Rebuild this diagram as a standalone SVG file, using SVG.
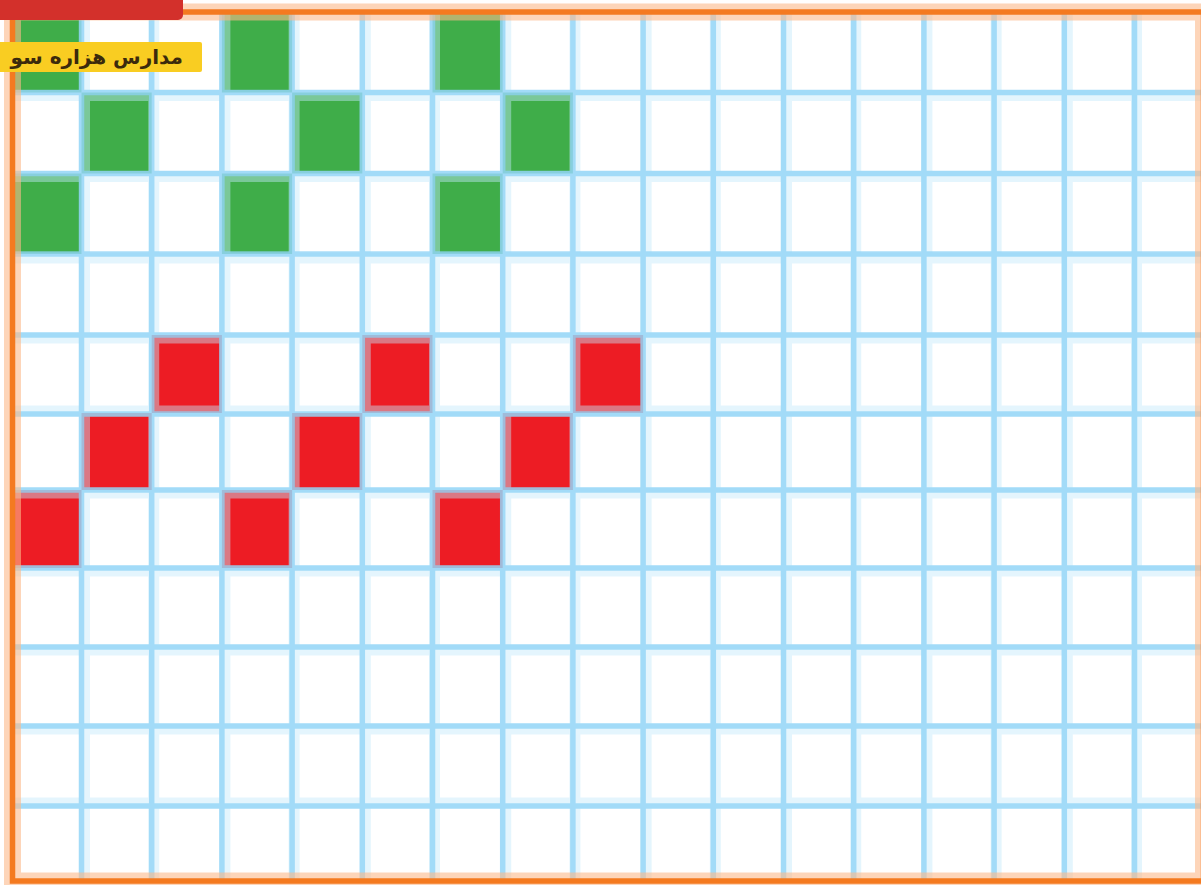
<svg xmlns="http://www.w3.org/2000/svg" width="1201" height="885" viewBox="0 0 1201 885">
<style>
.g{fill:#3fad49}
.r{fill:#ed1c24}
.band{stroke:#c4e9fa;stroke-width:11;opacity:0.45;fill:none}
.core{stroke:#8cd2f5;stroke-width:5.5;opacity:0.75;fill:none}
.obd{fill:none;stroke:#fbb98a;stroke-width:17;opacity:0.6}
.ocore{fill:none;stroke:#f47a20;stroke-width:5.5}
.lbl{font-family:"DejaVu Sans","Noto Sans",sans-serif;font-size:20px;font-weight:bold;fill:#3b2a0c}
</style>
<rect width="1201" height="885" fill="#ffffff"/>
<g id="squares-green">
<rect class="g" x="12.5" y="12" width="69" height="80.5"/>
<rect class="g" x="221.9" y="12" width="70.2" height="80.5"/>
<rect class="g" x="432.5" y="12" width="70.2" height="80.5"/>
<rect class="g" x="81.5" y="92.5" width="70.2" height="81"/>
<rect class="g" x="292.1" y="92.5" width="70.2" height="81"/>
<rect class="g" x="502.7" y="92.5" width="70.2" height="81"/>
<rect class="g" x="12.5" y="173.5" width="69" height="80.5"/>
<rect class="g" x="221.9" y="173.5" width="70.2" height="80.5"/>
<rect class="g" x="432.5" y="173.5" width="70.2" height="80.5"/>
</g>
<g id="squares-red">
<rect class="r" x="151.7" y="335" width="70.2" height="78"/>
<rect class="r" x="362.3" y="335" width="70.2" height="78"/>
<rect class="r" x="572.9" y="335" width="70.2" height="78"/>
<rect class="r" x="81.5" y="413" width="70.2" height="77"/>
<rect class="r" x="292.1" y="413" width="70.2" height="77"/>
<rect class="r" x="502.7" y="413" width="70.2" height="77"/>
<rect class="r" x="12.5" y="490" width="69" height="78"/>
<rect class="r" x="221.9" y="490" width="70.2" height="78"/>
<rect class="r" x="432.5" y="490" width="70.2" height="78"/>
</g>
<g id="grid">
<path class="band" d="M84.5 12V881M153.7 12V881M224.9 12V881M294.1 12V881M365.3 12V881M434.5 12V881M505.7 12V881M574.9 12V881M646.1 12V881M715.3 12V881M786.5 12V881M855.7 12V881M926.9 12V881M996.1 12V881M1067.3 12V881M1136.5 12V881M12 95.5H1201M12 176.5H1201M12 258H1201M12 338H1201M12 411H1201M12 493H1201M12 571H1201M12 650H1201M12 729H1201M12 803H1201"/>
<path class="core" d="M81.5 12V881M151.7 12V881M221.9 12V881M292.1 12V881M362.3 12V881M432.5 12V881M502.7 12V881M572.9 12V881M643.1 12V881M713.3 12V881M783.5 12V881M853.7 12V881M923.9 12V881M994.1 12V881M1064.3 12V881M1134.5 12V881M12 92.5H1201M12 173.5H1201M12 254H1201M12 335H1201M12 414H1201M12 490H1201M12 568H1201M12 647H1201M12 726H1201M12 806H1201"/>
</g>
<g id="border">
<rect class="obd" x="12.5" y="12" width="1191" height="869"/>
<rect class="ocore" x="12.5" y="12" width="1191" height="869"/>
</g>
<g id="label-red">
<rect x="-10" y="-10" width="193" height="30" rx="5" fill="#d3302b"/>
</g>
<g id="label-yellow">
<rect x="-5" y="42" width="207" height="30" rx="2" fill="#f9cd22"/>
<text class="lbl" x="183" y="64" direction="rtl" text-anchor="start">مدارس هزاره سو</text>
</g>
</svg>
